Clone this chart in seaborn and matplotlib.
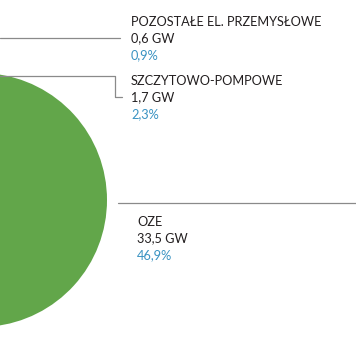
import matplotlib
matplotlib.use("Agg")
import matplotlib.pyplot as plt
import seaborn as sns

# visible segments of the installed capacity pie
labels = ["POZOSTAŁE EL. PRZEMYSŁOWE", "SZCZYTOWO-POMPOWE", "OZE"]
power_gw = ["0,6 GW", "1,7 GW", "33,5 GW"]
shares = [0.9, 2.3, 46.9]
oze_share = shares[2] / 100

green = "#62a64a"
blue = "#3a93c2"
dark = "#231f20"
line_col = "#8a8a8a"

sns.set_theme(style="white")
plt.rcParams["font.family"] = ["Lato", "DejaVu Sans"]

fig = plt.figure(figsize=(3.56, 3.64), dpi=100)
ax = fig.add_axes([0, 0, 1, 1])

# only the OZE wedge falls inside the crop; the pie centre sits off the left edge
ax.pie([oze_share], normalize=False, colors=[green],
       startangle=-oze_share * 360 / 2, center=(-20, 200), radius=127,
       wedgeprops=dict(linewidth=0))

ax.set_xlim(0, 356)
ax.set_ylim(364, 0)
ax.set_axis_off()

# leader lines
ax.plot([0, 120], [38, 38], color=line_col, lw=0.9)
ax.plot([0, 115, 115, 122], [76, 76, 97, 97], color=line_col, lw=0.9)
ax.plot([118, 356], [203, 203], color=line_col, lw=0.9)

# text blocks
blocks = [(131, 22), (131, 81), (137, 222)]
for (x, y), lab, gw, sh in zip(blocks, labels, power_gw, shares):
    ax.text(x, y, lab, fontsize=9.2, color=dark, va="center", ha="left")
    ax.text(x, y + 16.5, gw, fontsize=9.2, color=dark, va="center", ha="left")
    ax.text(x, y + 33, f"{sh:.1f}%".replace(".", ","), fontsize=9.2,
            color=blue, va="center", ha="left")

fig.savefig("out.png", dpi=100)
